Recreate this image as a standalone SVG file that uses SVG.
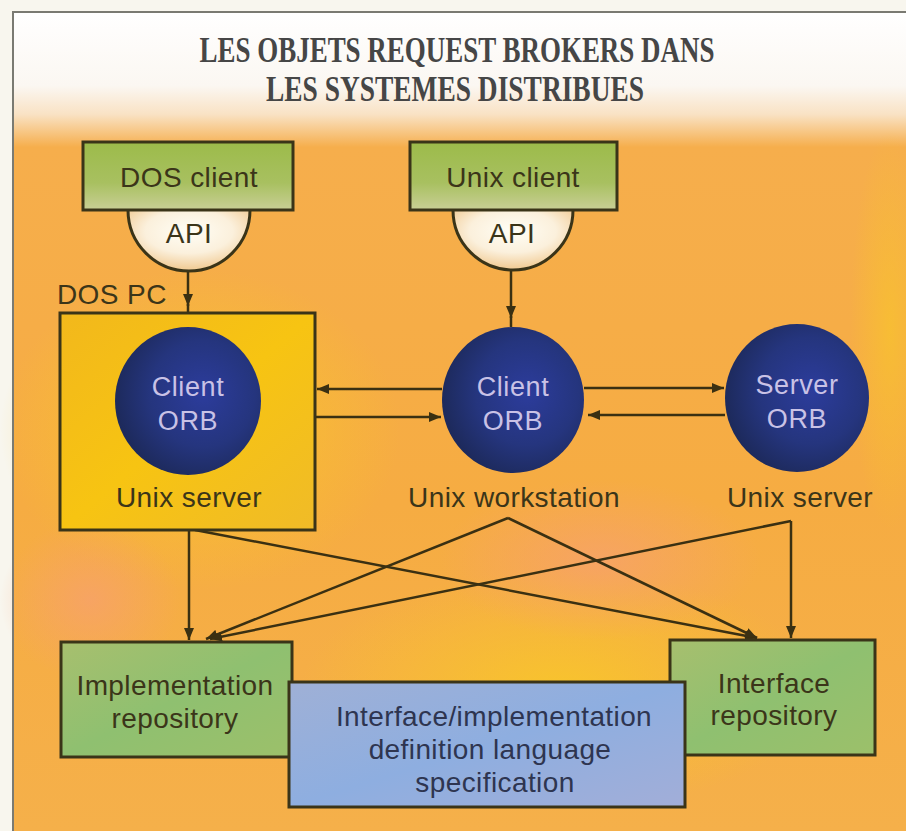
<svg xmlns="http://www.w3.org/2000/svg" width="906" height="831" viewBox="0 0 906 831">
  <defs>
    <linearGradient id="bg" x1="0" y1="0" x2="0" y2="1">
      <stop offset="0" stop-color="#ffffff"/>
      <stop offset="0.09" stop-color="#fbf7f2"/>
      <stop offset="0.125" stop-color="#f9e2c4"/>
      <stop offset="0.165" stop-color="#f6ae4c"/>
      <stop offset="0.6" stop-color="#f6ac42"/>
      <stop offset="1" stop-color="#f5b04a"/>
    </linearGradient>
    <radialGradient id="glowY" cx="0.5" cy="0.5" r="0.5">
      <stop offset="0" stop-color="#f8c62a" stop-opacity="0.9"/>
      <stop offset="1" stop-color="#f8c62a" stop-opacity="0"/>
    </radialGradient>
    <radialGradient id="glowP" cx="0.5" cy="0.5" r="0.5">
      <stop offset="0" stop-color="#f7a070" stop-opacity="0.7"/>
      <stop offset="1" stop-color="#f7a070" stop-opacity="0"/>
    </radialGradient>
    <linearGradient id="green" x1="0" y1="0" x2="0" y2="1">
      <stop offset="0" stop-color="#9cbb4a"/>
      <stop offset="0.6" stop-color="#a8c060"/>
      <stop offset="1" stop-color="#c9cf96"/>
    </linearGradient>
    <linearGradient id="green2" x1="0" y1="0" x2="1" y2="1">
      <stop offset="0" stop-color="#a7bf6e"/>
      <stop offset="0.5" stop-color="#8fc070"/>
      <stop offset="1" stop-color="#9cc06a"/>
    </linearGradient>
    <radialGradient id="api" cx="0.5" cy="0.35" r="0.6">
      <stop offset="0" stop-color="#fffef6"/>
      <stop offset="0.6" stop-color="#fbf0dc"/>
      <stop offset="1" stop-color="#f2cf9c"/>
    </radialGradient>
    <linearGradient id="yel" x1="0" y1="0" x2="1" y2="1">
      <stop offset="0" stop-color="#f2b81c"/>
      <stop offset="0.5" stop-color="#f7c412"/>
      <stop offset="1" stop-color="#f0bb28"/>
    </linearGradient>
    <radialGradient id="orb" cx="0.6" cy="0.45" r="0.6">
      <stop offset="0" stop-color="#2c3c9c"/>
      <stop offset="0.6" stop-color="#25357e"/>
      <stop offset="1" stop-color="#1d2a5c"/>
    </radialGradient>
    <linearGradient id="blue" x1="0" y1="0" x2="1" y2="1">
      <stop offset="0" stop-color="#9fb0d6"/>
      <stop offset="0.5" stop-color="#8eaee0"/>
      <stop offset="1" stop-color="#a2aed8"/>
    </linearGradient>
    <marker id="ah" viewBox="0 0 12 10" refX="12" refY="5" markerWidth="12" markerHeight="10" markerUnits="userSpaceOnUse" orient="auto">
      <path d="M0,0 L12,5 L0,10 Z" fill="#3a3012"/>
    </marker>
    <style>
      .box { stroke: #3a3418; stroke-width: 3; }
      .lbl { font-family: "Liberation Sans", Arial, sans-serif; font-size: 28px; fill: #3b3519; text-anchor: middle; letter-spacing: 0.4px; }
      .dark { fill: #2e3550; }
      .orbt { font-family: "Liberation Sans", Arial, sans-serif; font-size: 27px; fill: #c9c2e6; text-anchor: middle; letter-spacing: 0.6px; }
      .title { font-family: "Liberation Serif", "Times New Roman", serif; font-weight: bold; font-size: 36px; fill: #464646; text-anchor: middle; }
      .con { stroke: #3a3012; stroke-width: 2.5; fill: none; }
    </style>
  </defs>

  <!-- background -->
  <rect x="0" y="0" width="906" height="831" fill="#f8f6ee"/>
  <rect x="13" y="12" width="893" height="819" fill="url(#bg)"/>
  <ellipse cx="200" cy="430" rx="200" ry="160" fill="url(#glowY)"/>
  <ellipse cx="560" cy="690" rx="260" ry="120" fill="url(#glowY)"/>
  <ellipse cx="890" cy="330" rx="40" ry="200" fill="url(#glowY)" opacity="0.7"/>
  <ellipse cx="600" cy="560" rx="160" ry="80" fill="url(#glowP)"/>
  <ellipse cx="90" cy="600" rx="90" ry="80" fill="url(#glowP)"/>
  <!-- frame -->
  <path d="M13,831 L13,12 L906,12" fill="none" stroke="#7a7a72" stroke-width="2"/>

  <!-- title -->
  <g id="title">
    <text class="title" x="457" y="62" textLength="515" lengthAdjust="spacingAndGlyphs">LES OBJETS REQUEST BROKERS DANS</text>
    <text class="title" x="455" y="101" textLength="378" lengthAdjust="spacingAndGlyphs">LES SYSTEMES DISTRIBUES</text>
  </g>

  <!-- connectors -->
  <g id="connectors">
    <line class="con" x1="188" y1="265" x2="188" y2="306" marker-end="url(#ah)"/>
    <line class="con" x1="188" y1="304" x2="188" y2="313"/>
    <line class="con" x1="511" y1="265" x2="511" y2="318" marker-end="url(#ah)"/>
    <line class="con" x1="511" y1="316" x2="511" y2="327"/>
    <line class="con" x1="442" y1="389" x2="317" y2="389" marker-end="url(#ah)"/>
    <line class="con" x1="316" y1="417" x2="441" y2="417" marker-end="url(#ah)"/>
    <line class="con" x1="584" y1="388" x2="724" y2="388" marker-end="url(#ah)"/>
    <line class="con" x1="725" y1="415" x2="588" y2="415" marker-end="url(#ah)"/>
    <line class="con" x1="189" y1="530" x2="189" y2="640" marker-end="url(#ah)"/>
    <line class="con" x1="195" y1="530" x2="757" y2="638" marker-end="url(#ah)"/>
    <line class="con" x1="508" y1="518" x2="206" y2="639" marker-end="url(#ah)"/>
    <line class="con" x1="508" y1="518" x2="757" y2="638" marker-end="url(#ah)"/>
    <line class="con" x1="791" y1="521" x2="210" y2="639" marker-end="url(#ah)"/>
    <line class="con" x1="791" y1="521" x2="791" y2="638" marker-end="url(#ah)"/>
  </g>

  <!-- DOS client -->
  <g id="dos-api">
    <path class="box" d="M128,210 A61,61 0 0 0 250,210" fill="url(#api)" stroke-width="2.5"/>
    <text class="lbl" x="189" y="243" font-size="26">API</text>
  </g>
  <g id="dos-client">
    <rect class="box" x="83" y="142" width="210" height="68" fill="url(#green)"/>
    <text class="lbl" x="189" y="187">DOS client</text>
  </g>

  <!-- Unix client -->
  <g id="unix-api">
    <path class="box" d="M453,210 A60,60 0 0 0 573,210" fill="url(#api)" stroke-width="2.5"/>
    <text class="lbl" x="512" y="243" font-size="26">API</text>
  </g>
  <g id="unix-client">
    <rect class="box" x="410" y="142" width="207" height="68" fill="url(#green)"/>
    <text class="lbl" x="513" y="187">Unix client</text>
  </g>

  <!-- DOS PC / left Unix server -->
  <g id="dos-pc">
    <text class="lbl" x="57" y="304" style="text-anchor:start">DOS PC</text>
    <rect class="box" x="60" y="313" width="255" height="217" fill="url(#yel)" stroke-width="2.5"/>
    <ellipse cx="188" cy="401" rx="73" ry="74" fill="url(#orb)"/>
    <text class="orbt" x="188" y="396">Client</text>
    <text class="orbt" x="188" y="430">ORB</text>
    <text class="lbl" x="189" y="507">Unix server</text>
  </g>

  <!-- Unix workstation -->
  <g id="workstation">
    <ellipse cx="513" cy="400" rx="71" ry="73" fill="url(#orb)"/>
    <text class="orbt" x="513" y="396">Client</text>
    <text class="orbt" x="513" y="430">ORB</text>
    <text class="lbl" x="514" y="507">Unix workstation</text>
  </g>

  <!-- Server ORB -->
  <g id="server">
    <ellipse cx="797" cy="398" rx="72" ry="74" fill="url(#orb)"/>
    <text class="orbt" x="797" y="394">Server</text>
    <text class="orbt" x="797" y="428">ORB</text>
    <text class="lbl" x="800" y="507">Unix server</text>
  </g>

  <!-- repositories -->
  <g id="impl-repo">
    <rect class="box" x="61" y="642" width="231" height="115" fill="url(#green2)"/>
    <text class="lbl" x="175" y="695">Implementation</text>
    <text class="lbl" x="175" y="728">repository</text>
  </g>
  <g id="iface-repo">
    <rect class="box" x="670" y="640" width="205" height="115" fill="url(#green2)"/>
    <text class="lbl" x="774" y="693">Interface</text>
    <text class="lbl" x="774" y="725">repository</text>
  </g>
  <g id="idl-spec">
    <rect class="box" x="289" y="682" width="396" height="125" fill="url(#blue)"/>
    <text class="lbl dark" x="494" y="726">Interface/implementation</text>
    <text class="lbl dark" x="490" y="759">definition language</text>
    <text class="lbl dark" x="495" y="792">specification</text>
  </g>
</svg>
